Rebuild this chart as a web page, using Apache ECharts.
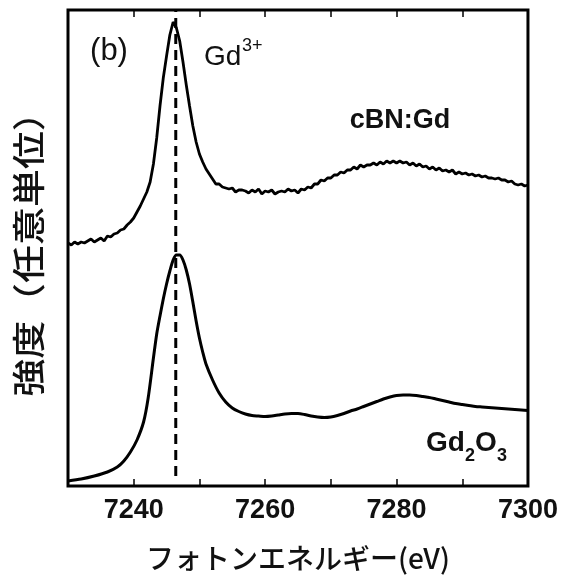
<!DOCTYPE html>
<html><head><meta charset="utf-8">
<script src="https://cdn.jsdelivr.net/npm/echarts@6/dist/echarts.min.js"></script>
<style>html,body{margin:0;padding:0;background:#fff}#c{width:561px;height:580px}</style>
</head><body><div id="c"></div>
<script>
// Photon energy ticks (eV)
const xTickLabels = [7240, 7260, 7280, 7300];
const edgeEnergy = 7246.4; // Gd3+ dashed reference line

// cBN:Gd spectrum (arbitrary units, offset upward)
const cbnEnergy = [
7230,7230.5,7231,7231.5,7232,7232.5,7233,7233.5,7234,7234.5,
7235,7235.5,7236,7236.5,7237,7237.5,7238,7238.5,7239,7239.5,
7240,7240.5,7241,7241.5,7242,7242.5,7243,7243.5,7244,7244.5,
7245,7245.5,7246,7246.5,7247,7247.5,7248,7248.5,7249,7249.5,
7250,7250.5,7251,7251.5,7252,7252.5,7253,7253.5,7254,7254.5,
7255,7255.5,7256,7256.5,7257,7257.5,7258,7258.5,7259,7259.5,
7260,7260.5,7261,7261.5,7262,7262.5,7263,7263.5,7264,7264.5,
7265,7265.5,7266,7266.5,7267,7267.5,7268,7268.5,7269,7269.5,
7270,7270.5,7271,7271.5,7272,7272.5,7273,7273.5,7274,7274.5,
7275,7275.5,7276,7276.5,7277,7277.5,7278,7278.5,7279,7279.5,
7280,7280.5,7281,7281.5,7282,7282.5,7283,7283.5,7284,7284.5,
7285,7285.5,7286,7286.5,7287,7287.5,7288,7288.5,7289,7289.5,
7290,7290.5,7291,7291.5,7292,7292.5,7293,7293.5,7294,7294.5,
7295,7295.5,7296,7296.5,7297,7297.5,7298,7298.5,7299,7299.5,7300];
const cbnIntensity = [
243,241,244,242,244,243,245,247,244,246,
248,245,250,249,252,253,256,257,261,264,
268,274,280,287,294,304,322,348,380,408,
430,451,464,458,445,424,401,380,360,344,
332,324,317,312,307,302,302,299,298,297,
298,294,296,296,295,293,296,294,297,292,
295,294,296,292,294,295,294,297,295,296,
293,297,296,299,298,302,302,306,305,308,
308,311,311,314,313,316,316,319,317,321,
319,321,321,323,321,324,322,325,323,325,
323,325,323,324,321,323,320,322,319,320,
317,319,316,318,315,316,314,316,312,314,
312,313,311,312,310,311,309,310,308,308,
307,308,306,306,304,305,302,301,302,300,301];

// Gd2O3 reference spectrum (arbitrary units)
const gdoEnergy = [
7230,7232,7234,7236,7237.5,7238.5,7239.5,7240.5,7241.5,7242.2,
7243,7243.5,7244,7244.5,7245,7245.5,7246,7246.5,7247,7247.5,
7248,7248.5,7249,7249.5,7250,7250.5,7251,7252,7253,7254,
7255,7256,7257,7258,7259,7260,7261,7262,7263,7264,
7265,7266,7267,7268,7269,7270,7271,7272,7273,7274,
7275,7276,7277,7278,7279,7280,7281,7282,7283,7284,
7285,7286,7287,7288,7289,7290,7291,7292,7293,7294,
7295,7296,7297,7298,7299,7300];
const gdoIntensity = [
5,7,10,14,19,25,34,46,64,88,
128,152,170,187,202,215,226,231,231,226,
216,202,184,165,148,134,122,106,93,84,
78,74.5,72,70.5,70,69.5,70,71,72,72.5,
72.5,71.5,70,69,68.5,69,70.5,72.5,75,77,
79.5,82,84.5,87,89,90.5,91,91,90.5,89.5,
88.5,87,85.5,84,82.5,81.5,80.5,79.5,79,78.5,
78,77.5,77,76.5,76,75.5];

const pair = (xs, ys) => xs.map((x, i) => [x, ys[i]]);
const lineY = [10, 476];

const chart = echarts.init(document.getElementById('c'), null, {renderer: 'canvas'});
const latin = '"Liberation Sans", Arial, sans-serif';
const cjk = '"Noto Sans CJK JP", sans-serif';

chart.setOption({
  animation: false,
  backgroundColor: '#fff',
  grid: {left: 68, right: 28, top: 10, bottom: 94, show: true, borderColor: '#000', borderWidth: 3, backgroundColor: 'transparent'},
  xAxis: [{
    type: 'value', min: 7230, max: 7300, interval: 10, position: 'bottom',
    axisLine: {show: false},
    axisTick: {show: true, inside: true, length: 7, lineStyle: {color: '#000', width: 1.5}},
    splitLine: {show: false},
    axisLabel: {
      show: true, margin: 11, color: '#111', fontFamily: latin, fontWeight: 'bold', fontSize: 27,
      showMinLabel: true, showMaxLabel: true,
      formatter: v => xTickLabels.indexOf(v) >= 0 ? String(v) : ''
    },
    name: 'フォトンエネルギー(eV)', nameLocation: 'middle', nameGap: 58,
    nameTextStyle: {fontFamily: cjk, fontSize: 28, color: '#111', fontWeight: 500}
  }, {
    type: 'value', min: 7230, max: 7300, interval: 10, position: 'top',
    axisLine: {show: false},
    axisTick: {show: true, inside: true, length: 7, lineStyle: {color: '#000', width: 1.5}},
    axisLabel: {show: false}, splitLine: {show: false}
  }],
  yAxis: {
    type: 'value', min: 0, max: 476, show: false
  },
  series: [{
    name: 'cBN:Gd', type: 'line', data: pair(cbnEnergy, cbnIntensity), showSymbol: false,
    lineStyle: {color: '#000', width: 2.8}, smooth: false
  }, {
    name: 'Gd2O3', type: 'line', data: pair(gdoEnergy, gdoIntensity), showSymbol: false,
    lineStyle: {color: '#000', width: 3}, smooth: 0.25
  }, {
    name: 'Gd3+', type: 'line', data: [[edgeEnergy, lineY[0]], [edgeEnergy, lineY[1]]], showSymbol: false,
    lineStyle: {color: '#000', width: 3, type: [10, 6]}
  }],
  graphic: [
    {type: 'text', x: 28, y: 245, rotation: Math.PI / 2, scaleX: 1.15,
     style: {text: '強度（任意単位）', font: '500 33px ' + cjk, fill: '#111', textAlign: 'center', textVerticalAlign: 'middle'}},
    {type: 'text', x: 109, y: 51, style: {text: '(b)', font: 'normal 31px ' + latin, fill: '#111', textAlign: 'center', textVerticalAlign: 'middle'}},
    {type: 'text', x: 204, y: 57, style: {text: 'Gd', font: 'normal 28px ' + latin, fill: '#111', textAlign: 'left', textVerticalAlign: 'middle'}},
    {type: 'text', x: 242, y: 46, style: {text: '3+', font: 'normal 18px ' + latin, fill: '#111', textAlign: 'left', textVerticalAlign: 'middle'}},
    {type: 'text', x: 400, y: 121, style: {text: 'cBN:Gd', font: 'bold 27px ' + latin, fill: '#111', textAlign: 'center', textVerticalAlign: 'middle'}},
    {type: 'text', x: 426, y: 443, style: {text: 'Gd', font: 'bold 28px ' + latin, fill: '#111', textAlign: 'left', textVerticalAlign: 'middle'}},
    {type: 'text', x: 465, y: 456, style: {text: '2', font: 'bold 18px ' + latin, fill: '#111', textAlign: 'left', textVerticalAlign: 'middle'}},
    {type: 'text', x: 475, y: 443, style: {text: 'O', font: 'bold 28px ' + latin, fill: '#111', textAlign: 'left', textVerticalAlign: 'middle'}},
    {type: 'text', x: 497, y: 456, style: {text: '3', font: 'bold 18px ' + latin, fill: '#111', textAlign: 'left', textVerticalAlign: 'middle'}}
  ]
});
</script></body></html>
